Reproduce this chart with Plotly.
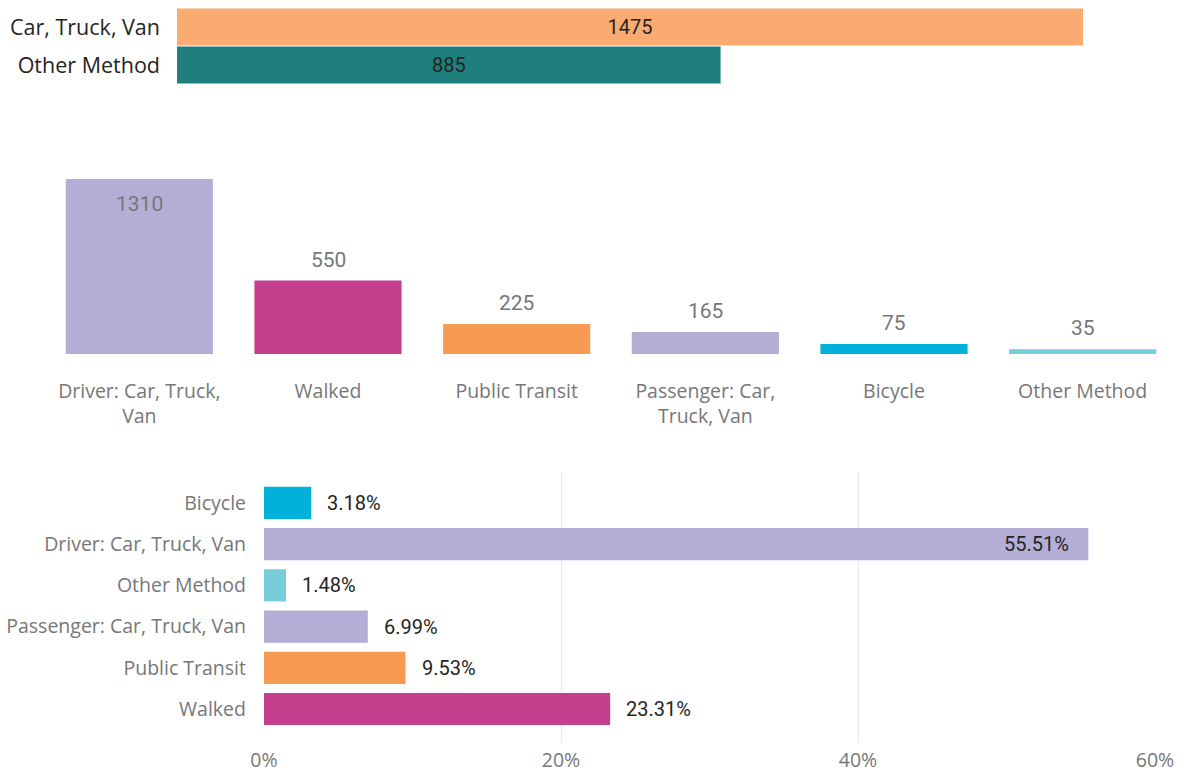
import plotly.graph_objects as go

W, H = 1181, 773

# Top chart data
top_cats = ["Car, Truck, Van", "Other Method"]
top_vals = [1475, 885]
top_colors = ["#F9AB71", "#1F7F7C"]

# Middle chart data
mid_cats = ["Driver: Car, Truck, Van", "Walked", "Public Transit",
            "Passenger: Car, Truck, Van", "Bicycle", "Other Method"]
mid_ticktext = ["Driver: Car, Truck,<br>Van", "Walked", "Public Transit",
                "Passenger: Car,<br>Truck, Van", "Bicycle", "Other Method"]
mid_vals = [1310, 550, 225, 165, 75, 35]
mid_colors = ["#B4AED7", "#C4408F", "#F89A52", "#B4AED7", "#01B1DA", "#76CDDB"]

# Bottom chart data
bot_cats = ["Bicycle", "Driver: Car, Truck, Van", "Other Method",
            "Passenger: Car, Truck, Van", "Public Transit", "Walked"]
bot_vals = [0.0318, 0.5551, 0.0148, 0.0699, 0.0953, 0.2331]
bot_colors = ["#01B1DA", "#B4AED7", "#76CDDB", "#B4AED7", "#F89A52", "#C4408F"]

NUM_FONT = "Roboto, sans-serif"
CAT_FONT = "Open Sans, Noto Sans, sans-serif"


def px_x(a, b):
    return [a / W, b / W]


def px_y(top, bottom):
    return [1 - bottom / H, 1 - top / H]


fig = go.Figure()

# Top horizontal bar
fig.add_trace(go.Bar(
    y=top_cats, x=top_vals, orientation="h", width=0.98,
    marker=dict(color=top_colors, line=dict(width=0)),
    text=[str(v) for v in top_vals], textposition="inside",
    insidetextanchor="middle",
    textfont=dict(family=NUM_FONT, size=20, color="#252423"),
    xaxis="x", yaxis="y", hoverinfo="skip", showlegend=False,
))

# Middle column chart
fig.add_trace(go.Bar(
    x=mid_cats, y=mid_vals, width=0.78,
    marker=dict(color=mid_colors, line=dict(width=0)),
    cliponaxis=False,
    xaxis="x2", yaxis="y2", hoverinfo="skip", showlegend=False,
))

# Bottom horizontal percentage chart
fig.add_trace(go.Bar(
    y=bot_cats, x=bot_vals, orientation="h", width=0.78,
    marker=dict(color=bot_colors, line=dict(width=0)),
    cliponaxis=False,
    xaxis="x3", yaxis="y3", hoverinfo="skip", showlegend=False,
))

annotations = []
vmax = max(mid_vals)
for c, v in zip(mid_cats, mid_vals):
    inside = v == vmax
    annotations.append(dict(
        x=c, y=v, xref="x2", yref="y2", text=str(v), showarrow=False,
        xanchor="center", yanchor="middle", yshift=-25 if inside else 21,
        font=dict(family=NUM_FONT, size=21, color="#777777"),
    ))
for c, v in zip(bot_cats, bot_vals):
    inside = v > 0.5
    annotations.append(dict(
        x=v, y=c, xref="x3", yref="y3", text=f"{v * 100:.2f}%", showarrow=False,
        xanchor="right" if inside else "left", yanchor="middle",
        xshift=-17 if inside else 14,
        font=dict(family=NUM_FONT, size=20, color="#252423"),
    ))

fig.update_layout(
    width=W, height=H,
    margin=dict(l=0, r=0, t=0, b=0),
    paper_bgcolor="white", plot_bgcolor="white",
    annotations=annotations,
    xaxis=dict(domain=px_x(177, 1083), range=[0, 1475], visible=False,
               automargin=False, anchor="y"),
    yaxis=dict(domain=px_y(8, 84), range=[1.5, -0.5], type="category",
               showgrid=False, zeroline=False, showline=False, ticks="",
               tickfont=dict(family=CAT_FONT, size=21.5, color="#252423"),
               ticklabelstandoff=16, automargin=False, anchor="x"),
    xaxis2=dict(domain=px_x(45, 1177), type="category", showgrid=False,
                zeroline=False, showline=False, ticks="",
                tickvals=mid_cats, ticktext=mid_ticktext,
                tickfont=dict(family=CAT_FONT, size=19.5, color="#777777"),
                ticklabelstandoff=23, automargin=False, anchor="y2"),
    yaxis2=dict(domain=px_y(179, 354), range=[0, 1310], visible=False,
                automargin=False, anchor="x2"),
    xaxis3=dict(domain=px_x(264, 1155), range=[0, 0.6], dtick=0.2, tickformat=".0%",
                showgrid=True, gridcolor="#E8E8E8", gridwidth=1,
                zeroline=False, showline=False, ticks="",
                tickfont=dict(family=CAT_FONT, size=19.5, color="#777777"),
                ticklabelstandoff=4, automargin=False, anchor="y3"),
    yaxis3=dict(domain=px_y(472, 742), type="category", range=[5.8, -0.75],
                showgrid=False, zeroline=False, showline=False, ticks="",
                tickfont=dict(family=CAT_FONT, size=19.5, color="#777777"),
                ticklabelstandoff=17, automargin=False, anchor="x3"),
)

fig.write_html("out.html", config={"displayModeBar": False},
               post_script="document.body.style.margin='0';")
